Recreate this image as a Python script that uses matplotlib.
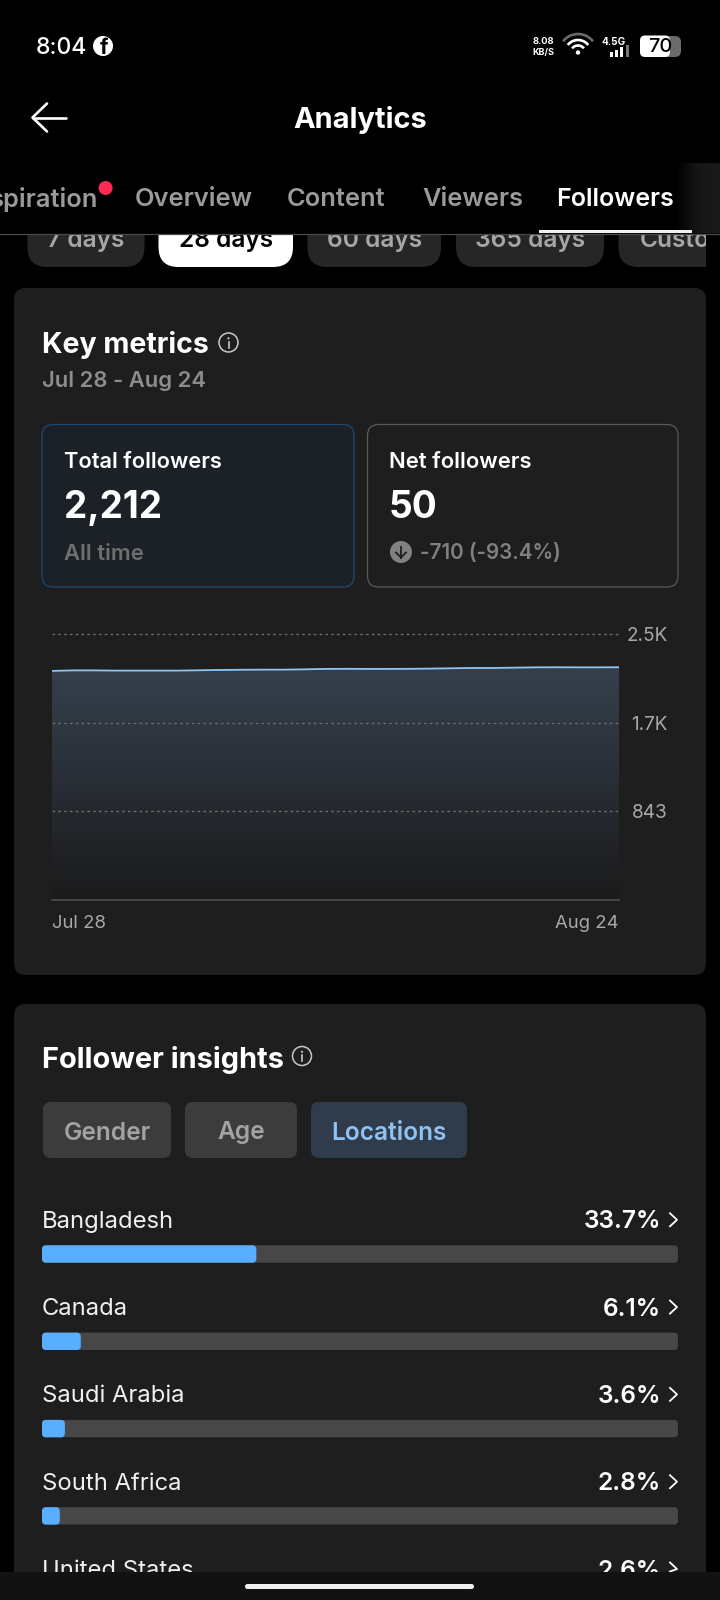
import numpy as np
import matplotlib
matplotlib.use("Agg")
import matplotlib.pyplot as plt
from matplotlib.patches import FancyBboxPatch, Rectangle, Circle, Arc
from matplotlib.colors import LinearSegmentedColormap

W, H = 720, 1600
FONT = "Inter"
plt.rcParams['font.family'] = [FONT, 'DejaVu Sans']

# ---------- data ----------
tabs = ["spiration", "Overview", "Content", "Viewers", "Followers"]
ranges = ["7 days", "28 days", "60 days", "365 days", "Custom"]
follower_totals = [2178, 2183, 2183, 2181, 2181, 2181, 2181, 2184, 2187, 2189,
                   2190, 2190, 2193, 2197, 2198, 2197, 2197, 2198, 2200, 2203,
                   2206, 2206, 2209, 2212, 2213, 2212, 2212, 2213]
y_ticks = [843, 1686, 2529]
y_tick_labels = ["843", "1.7K", "2.5K"]
x_tick_labels = ["Jul 28", "Aug 24"]
countries = ["Bangladesh", "Canada", "Saudi Arabia", "South Africa", "United States"]
shares = [33.7, 6.1, 3.6, 2.8, 2.6]
share_labels = ["33.7%", "6.1%", "3.6%", "2.8%", "2.6%"]
insight_tabs = ["Gender", "Age", "Locations"]

CARD = "#1e1e1e"
DY = 2.5
fig = plt.figure(figsize=(W / 100, H / 100), dpi=100, facecolor="black")

def px(v):
    return v * 0.72

ui = fig.add_axes([0, 0, 1, 1], zorder=0)
ui.set_xlim(0, W); ui.set_ylim(H, 0); ui.axis("off")

def inset(x0, y0, x1, y1, z=1):
    return fig.add_axes([x0 / W, 1 - y1 / H, (x1 - x0) / W, (y1 - y0) / H], zorder=z)

def rbox(ax, x0, y0, x1, y1, r, fc, ec="none", lw=0, z=1):
    p = FancyBboxPatch((x0, y0), x1 - x0, y1 - y0,
                       boxstyle=f"round,pad=0,rounding_size={r}",
                       fc=fc, ec=ec, lw=lw, zorder=z)
    ax.add_patch(p)
    return p

def T(x, y, s, size, color="white", weight="normal", ha="left", va="center", z=6, ax=None):
    return (ax or ui).text(x, y + DY, s, fontsize=px(size), color=color, fontweight=weight,
                           ha=ha, va=va, zorder=z)

def info(x, y, r=9.5):
    ui.add_patch(Circle((x, y), r, fc="none", ec="#c8c8c8", lw=1.1, zorder=6))
    ui.plot([x, x], [y - 1, y + 5], color="#c8c8c8", lw=1.2, zorder=6)
    ui.add_patch(Circle((x, y - 4.2), 1.1, fc="#c8c8c8", ec="none", zorder=6))

# ---------- cards ----------
rbox(ui, 14, 288, 706, 975, 12, CARD, z=1)
rbox(ui, 14, 1004, 706, 1640, 12, CARD, z=1)

# ---------- range pills (cut by header) ----------
pill_x = [(27.5, 144.5), (158.5, 293), (307.5, 441), (456, 604), (618.5, 760)]
pill_tx = [(pill_x[i][0] + pill_x[i][1]) / 2 for i in range(4)] + [640]
for i, (lab, (a, b)) in enumerate(zip(ranges, pill_x)):
    sel = i == 1
    rbox(ui, a, 190, b, 267, 20, "white" if sel else "#262626", z=2)
    T(pill_tx[i], 238, lab, 24.5, "black" if sel else "#a6a6a6", "semibold",
      ha="center" if i < 4 else "left", z=3)
ui.add_patch(Rectangle((0, 0), W, 233.5, fc="black", ec="none", zorder=4))
ui.add_patch(Rectangle((706, 233), 14, 50, fc="black", ec="none", zorder=4))
ui.plot([0, W], [233.7, 233.7], color="#4a4a4a", lw=0.9, zorder=5)

# fade at the right of tab strip
fade = LinearSegmentedColormap.from_list("f", ["#000000", "#161616", "#1a1a1a"])
ui.imshow(np.linspace(0, 1, 64).reshape(1, -1), extent=(676, 720, 233, 163), cmap=fade,
          aspect="auto", zorder=4.5)
ui.set_xlim(0, W); ui.set_ylim(H, 0)

# ---------- status bar ----------
T(36, 45.5, "8:04", 23, "white", "medium")
ui.add_patch(Circle((103, 46), 10, fc="white", ec="none", zorder=6))
T(104, 46, "f", 21, "black", "bold", ha="center", z=7)
T(543.5, 39, "8.08", 9.5, "white", "bold", ha="center")
T(543.5, 50, "KB/S", 9, "white", "bold", ha="center")
for r, c in [(19, "#6a6a6a"), (13, "white"), (7.5, "white")]:
    ui.add_patch(Arc((578, 53), 2 * r, 2 * r, theta1=218, theta2=322, color=c, lw=1.9, zorder=6))
ui.add_patch(Circle((578, 52.5), 2.2, fc="white", ec="none", zorder=6))
T(614, 39.5, "4.5G", 10, "white", "bold", ha="center")
for xb, top, c in [(610, 52, "white"), (615, 50, "white"), (620, 47, "white"), (626, 45, "#777777")]:
    ui.add_patch(Rectangle((xb, top), 3, 57 - top, fc=c, ec="none", zorder=6))
rbox(ui, 650, 36, 681, 57, 6, "#6b6b6b", z=6)
rbox(ui, 640, 35.5, 670, 57, 5, "white", z=7)
T(660, 44.5, "70", 20, "black", "medium", ha="center", z=8)

# ---------- nav ----------
ui.plot([32.5, 66], [117.5, 117.5], color="white", lw=1.9, zorder=6, solid_capstyle="round")
ui.plot([47, 32.5, 47], [103.5, 117.5, 131.5], color="white", lw=1.9, zorder=6, solid_capstyle="round")
T(360, 117.5, "Analytics", 29, "white", "bold", ha="center")

tab_x = [98, 134.5, 287, 422.5, 556.5]
for i, (lab, x) in enumerate(zip(tabs, tab_x)):
    T(x, 197.5, lab, 25 if i == 4 else 25.5, "white" if i == 4 else "#9a9a9a", "semibold",
      ha="right" if i == 0 else "left")
ui.add_patch(Circle((105.6, 188), 7, fc="#fe2c55", ec="none", zorder=6))
ui.add_patch(Rectangle((538.5, 229.5), 153.5, 3, fc="#f0f0f0", ec="none", zorder=6))

# ---------- key metrics ----------
T(42.5, 342.5, "Key metrics", 28.5, "white", "bold")
info(228.5, 342.5)
T(42.5, 378.5, "Jul 28 - Aug 24", 22, "#8c8c8c", "semibold")
rbox(ui, 42, 424.5, 354, 587, 11, "#1b2127", ec="#1d4a73", lw=0.9, z=2)
rbox(ui, 367.5, 424.5, 678, 587, 11, CARD, ec="#5a5a5a", lw=0.9, z=2)
T(64.5, 459.5, "Total followers", 21.8, "white", "semibold")
T(64, 506, "2,212", 37, "white", "bold")
T(64.5, 552, "All time", 22, "#6f6f6f", "semibold")
T(389, 459.5, "Net followers", 22, "white", "semibold")
T(389, 506, "50", 37, "white", "bold")
ui.add_patch(Circle((401, 552), 11, fc="#808080", ec="none", zorder=6))
ui.plot([401, 401], [546.5, 557.5], color=CARD, lw=1.3, zorder=7)
ui.plot([396, 401, 406], [552.5, 557.5, 552.5], color=CARD, lw=1.3, zorder=7)
T(420, 551, "-710 (-93.4%)", 20.6, "#808080", "semibold")

# ---------- line chart ----------
days = np.arange(len(follower_totals))
PX_PER = 266 / 2529
Y_MAX = 2560
ch = inset(52, 900 - Y_MAX * PX_PER, 619, 900)
ch.set_facecolor("none")
poly = ch.fill_between(days, follower_totals, 0, color="none", lw=0)
grad = LinearSegmentedColormap.from_list("g", ["#1b1b1c", "#24272c", "#2d343d", "#353f4b"])
im = ch.imshow(np.linspace(1, 0, 128).reshape(-1, 1), cmap=grad, aspect="auto",
               extent=(0, days[-1], 0, max(follower_totals)), zorder=1)
im.set_clip_path(poly.get_paths()[0], transform=ch.transData)
ch.plot(days, follower_totals, color="#90c4f0", lw=1.3, zorder=4, solid_capstyle="butt")
ch.set_xlim(0, days[-1]); ch.set_ylim(0, Y_MAX)
ch.yaxis.tick_right()
ch.set_yticks(y_ticks, y_tick_labels, fontsize=px(19), color="#a8a8a8", ha="right")
ch.set_xticks([days[0], days[-1]], x_tick_labels, fontsize=px(18.5), color="#a8a8a8")
ch.get_xticklabels()[0].set_ha("left")
ch.get_xticklabels()[1].set_ha("right")
ch.tick_params(axis="y", length=0, pad=px(49))
ch.tick_params(axis="x", length=0, pad=px(15.5))
ch.set_axisbelow(False)
ch.grid(axis="y", color="#6e6e6e", lw=0.95, linestyle=(0, (2.0, 2.4)))
ch.grid(axis="x", visible=False)
for s in ["top", "left", "right"]:
    ch.spines[s].set_visible(False)
ch.spines["bottom"].set_color("#484848")
ch.spines["bottom"].set_linewidth(1.3)

# ---------- follower insights ----------
T(42.5, 1057.5, "Follower insights", 29, "white", "bold")
info(302, 1056)
btn = [(43, 171), (185, 297), (311, 467)]
for i, (lab, (a, b)) in enumerate(zip(insight_tabs, btn)):
    sel = i == 2
    rbox(ui, a, 1102, b, 1158, 8, "#303c4c" if sel else "#3c3c3c", z=2)
    T((a + b) / 2, 1130.5, lab, 24.5, "#8fc2f2" if sel else "#a3a3a3", "semibold", ha="center")

# ---------- location bars ----------
PITCH, FIRST = 87.3, 1254
BTOP, BBOT = 1200, 1571.5
LABEL_UP = 34.7 - DY
bars = inset(42, BTOP, 678, BBOT)
bars.set_xlim(0, 100)
bars.set_ylim((BBOT - FIRST) / PITCH, (BTOP - FIRST) / PITCH)
bars.axis("off")
BAR_H = 17.4 / PITCH
r_x = 4 / 6.36
aspect = (4 / PITCH) / r_x
for i, (name, v, lab) in enumerate(zip(countries, shares, share_labels)):
    for wid, col, z in [(100, "#474747", 1), (v, "#5aaeff", 2)]:
        bars.add_patch(FancyBboxPatch((0, i - BAR_H / 2), wid, BAR_H,
                                      boxstyle=f"round,pad=0,rounding_size={r_x}",
                                      mutation_aspect=aspect, fc=col, ec="none", zorder=z))
    a1 = bars.annotate(name, (0, i), xytext=(px(0.0), px(LABEL_UP)), textcoords="offset points",
                       fontsize=px(23.8), color="#f0f0f0", va="center", ha="left",
                       annotation_clip=False)
    a2 = bars.annotate(lab, (100, i), xytext=(px(-17), px(LABEL_UP)), textcoords="offset points",
                       fontsize=px(24.4), color="white", fontweight="semibold", va="center", ha="right",
                       annotation_clip=False)
    a1.set_clip_on(True); a2.set_clip_on(True)
    a1.set_clip_box(bars.bbox); a2.set_clip_box(bars.bbox)
    y_px = FIRST + PITCH * i - 34.2
    if y_px < BBOT:
        yy = np.array([y_px - 6.5, y_px, min(y_px + 6.5, BBOT)])
        ui.plot([670, 677, 670], yy, color="white", lw=1.3, zorder=3)

# ---------- bottom bar ----------
nav = inset(0, 1571.5, W, H, z=3)
nav.set_xlim(0, W); nav.set_ylim(H, 1571.5); nav.axis("off")
nav.add_patch(Rectangle((0, 1571.5), W, 30, fc="#121212", ec="none"))
rbox(nav, 245, 1584, 474, 1589, 2.5, "#f0f0f0", z=3)

fig.savefig("out.png", dpi=100, facecolor="black")
